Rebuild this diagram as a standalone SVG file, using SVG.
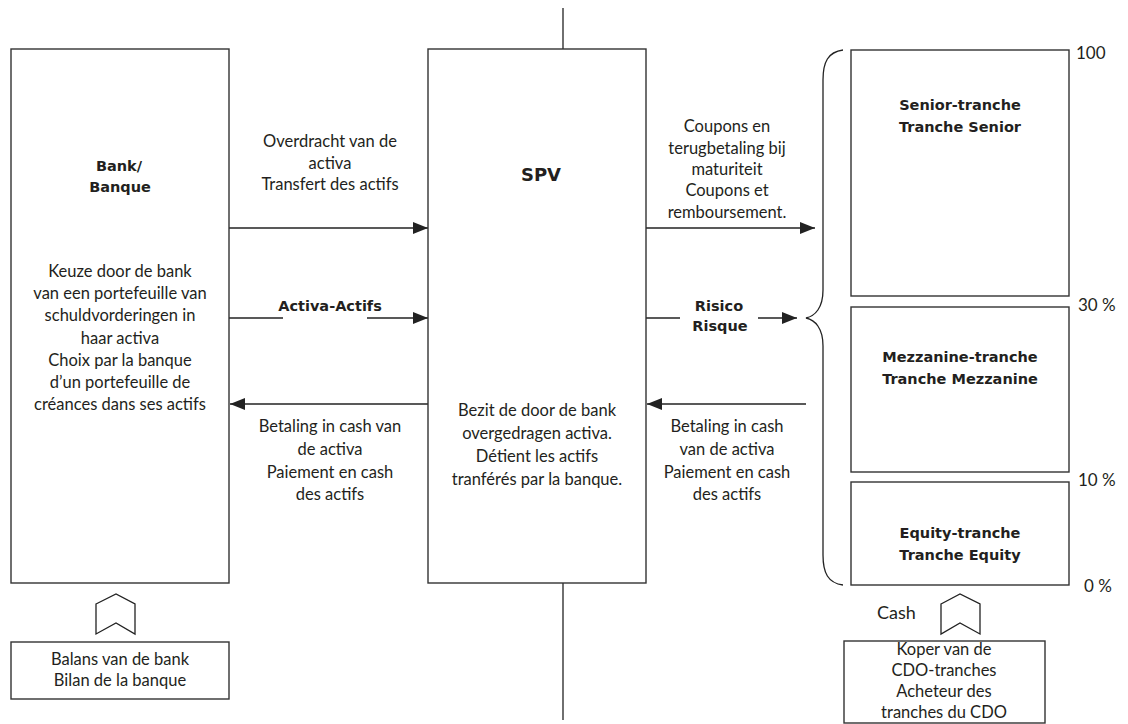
<svg xmlns="http://www.w3.org/2000/svg" width="1128" height="724" viewBox="0 0 1128 724">
<defs>
<marker id="ah" markerWidth="16" markerHeight="12" refX="15" refY="6" orient="auto" markerUnits="userSpaceOnUse">
<path d="M0,0 L15,6 L0,12 Z" fill="#222"/>
</marker>
<style>
.box{fill:#fff;stroke:#333;stroke-width:1.4}
.ln{fill:none;stroke:#222;stroke-width:1.3}
text{font-family:Lato,"Open Sans","Liberation Sans",sans-serif;font-size:16.5px;fill:#231f20;text-anchor:middle}
.b{font-family:"DejaVu Sans","Liberation Sans",sans-serif;font-weight:bold;font-size:14.5px}
.l{text-anchor:start}
</style>
</defs>
<rect width="1128" height="724" fill="#fff"/>

<g id="connectors">
<line class="ln" x1="563" y1="8" x2="563" y2="49"/>
<line class="ln" x1="563" y1="583" x2="563" y2="720"/>
<line class="ln" x1="229" y1="228" x2="428" y2="228" marker-end="url(#ah)"/>
<line class="ln" x1="229" y1="318" x2="283" y2="318"/>
<line class="ln" x1="367" y1="318" x2="428" y2="318" marker-end="url(#ah)"/>
<line class="ln" x1="428" y1="404" x2="230" y2="404" marker-end="url(#ah)"/>
<line class="ln" x1="646" y1="228" x2="815" y2="228" marker-end="url(#ah)"/>
<line class="ln" x1="646" y1="318" x2="680" y2="318"/>
<line class="ln" x1="758" y1="318" x2="797" y2="318" marker-end="url(#ah)"/>
<line class="ln" x1="806" y1="404" x2="647" y2="404" marker-end="url(#ah)"/>
<path class="ln" d="M843,50 C828,52 823,62 823,80 L823,290 C823,308 815,316 806,318 C815,320 823,328 823,346 L823,555 C823,573 828,583 843,585"/>
<text x="330" y="147">Overdracht van de</text>
<text x="330" y="169">activa</text>
<text x="330" y="190">Transfert des actifs</text>
<text class="b" x="330" y="311">Activa-Actifs</text>
<text x="330" y="432">Betaling in cash van</text>
<text x="330" y="455">de activa</text>
<text x="330" y="478">Paiement en cash</text>
<text x="330" y="500">des actifs</text>
<text x="727" y="132">Coupons en</text>
<text x="727" y="154">terugbetaling bij</text>
<text x="727" y="175">maturiteit</text>
<text x="727" y="196">Coupons et</text>
<text x="727" y="218">remboursement.</text>
<text class="b" x="719" y="311">Risico</text>
<text class="b" x="720" y="331">Risque</text>
<text x="727" y="432">Betaling in cash</text>
<text x="727" y="455">van de activa</text>
<text x="727" y="478">Paiement en cash</text>
<text x="727" y="500">des actifs</text>
</g>

<g id="bank">
<rect class="box" x="11" y="49" width="218" height="534"/>
<text class="b" x="119" y="171">Bank/</text>
<text class="b" x="120" y="192">Banque</text>
<text x="120" y="277">Keuze door de bank</text>
<text x="120" y="299">van een portefeuille van</text>
<text x="120" y="321">schuldvorderingen in</text>
<text x="120" y="344">haar activa</text>
<text x="120" y="366">Choix par la banque</text>
<text x="120" y="388">d’un portefeuille de</text>
<text x="120" y="410">créances dans ses actifs</text>
</g>

<g id="spv">
<rect class="box" x="428" y="49" width="218" height="534"/>
<text class="b" x="541" y="181" style="font-size:18px">SPV</text>
<text x="537" y="416">Bezit de door de bank</text>
<text x="537" y="439">overgedragen activa.</text>
<text x="537" y="462">Détient les actifs</text>
<text x="537" y="485">tranférés par la banque.</text>
</g>

<g id="senior">
<rect class="box" x="851" y="50" width="218" height="246"/>
<text class="b" x="960" y="110">Senior-tranche</text>
<text class="b" x="960" y="132">Tranche Senior</text>
<text class="l" x="1076" y="59" style="font-size:17px">100</text>
</g>

<g id="mezzanine">
<rect class="box" x="851" y="307" width="218" height="165"/>
<text class="b" x="960" y="362">Mezzanine-tranche</text>
<text class="b" x="960" y="384">Tranche Mezzanine</text>
<text class="l" x="1078" y="311" style="font-size:17px">30 %</text>
</g>

<g id="equity">
<rect class="box" x="851" y="482" width="218" height="103"/>
<text class="b" x="960" y="538">Equity-tranche</text>
<text class="b" x="960" y="560">Tranche Equity</text>
<text class="l" x="1078" y="486" style="font-size:17px">10 %</text>
<text class="l" x="1084" y="592" style="font-size:17px">0 %</text>
</g>

<g id="balans">
<path class="ln" d="M96,604 L116,594 L135,604 L135,634 L116,623 L96,634 Z"/>
<rect class="box" x="11" y="642" width="218" height="57"/>
<text x="120" y="665">Balans van de bank</text>
<text x="120" y="686">Bilan de la banque</text>
</g>

<g id="koper">
<path class="ln" d="M941,604 L960,594 L980,604 L980,634 L960,623 L941,634 Z"/>
<text class="l" x="877" y="619" style="font-size:18px">Cash</text>
<rect class="box" x="844" y="641" width="201" height="82"/>
<text x="944" y="655">Koper van de</text>
<text x="944" y="676">CDO-tranches</text>
<text x="944" y="697">Acheteur des</text>
<text x="944" y="718">tranches du CDO</text>
</g>
</svg>
